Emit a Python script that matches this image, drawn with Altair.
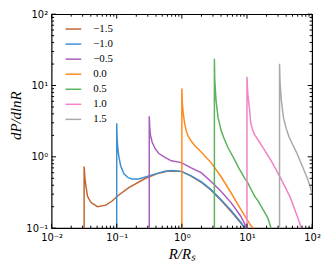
import math
import altair as alt
import pandas as pd

# ---- data ----
series_names = [-1.5, -1.0, -0.5, 0.0, 0.5, 1.0, 1.5]
colors = ["#c0652f", "#3d8fd2", "#a85cbe", "#ff8a1c", "#5cb35c", "#f382c8", "#a9a9a9"]

x_m15 = [0.0316, 0.0316, 0.0325, 0.0337, 0.0356, 0.040, 0.0506, 0.068, 0.085, 0.104, 0.153, 0.278, 0.44, 0.62, 0.80, 1.0, 1.39, 1.98, 2.81, 3.98, 5.66, 8.04, 9.3, 11.0]
y_m15 = [0.01, 0.73, 0.50, 0.39, 0.28, 0.23, 0.20, 0.21, 0.24, 0.285, 0.37, 0.50, 0.59, 0.63, 0.635, 0.62, 0.535, 0.44, 0.34, 0.247, 0.173, 0.118, 0.10, 0.08]

x_m10 = [0.1, 0.1, 0.1015, 0.104, 0.108, 0.115, 0.129, 0.15, 0.172, 0.218, 0.33, 0.55, 0.69, 0.98, 1.39, 1.98, 2.81, 3.98, 5.66, 8.04, 9.25, 11.0]
y_m10 = [0.01, 2.95, 1.8, 1.3, 1.0, 0.75, 0.58, 0.51, 0.49, 0.49, 0.55, 0.63, 0.645, 0.625, 0.54, 0.45, 0.347, 0.253, 0.178, 0.121, 0.10, 0.08]

x_m05 = [0.316, 0.316, 0.322, 0.33, 0.35, 0.39, 0.44, 0.55, 0.69, 0.98, 1.39, 1.98, 2.81, 3.98, 5.66, 8.04, 9.9, 12.0]
y_m05 = [0.01, 3.7, 2.5, 2.0, 1.6, 1.3, 1.12, 0.98, 0.88, 0.83, 0.70, 0.60, 0.45, 0.33, 0.23, 0.147, 0.10, 0.075]

x_p00 = [1.0, 1.0, 1.02, 1.05, 1.1, 1.17, 1.25, 1.4, 1.6, 1.98, 2.81, 3.98, 5.66, 8.04, 11.5, 12.5, 15.0]
y_p00 = [0.01, 9.1, 5.5, 4.1, 3.0, 2.3, 1.95, 1.65, 1.42, 1.17, 0.83, 0.53, 0.316, 0.184, 0.108, 0.10, 0.075]

x_p05 = [3.16, 3.16, 3.2, 3.35, 3.59, 3.99, 4.4, 5.1, 6.5, 7.2, 9.25, 10.3, 13.1, 14.6, 20.7, 23.5, 27.0]
y_p05 = [0.01, 23.7, 12.0, 6.2, 3.6, 2.37, 1.85, 1.35, 0.9, 0.74, 0.5, 0.43, 0.28, 0.245, 0.142, 0.10, 0.08]

x_p10 = [10.0, 10.0, 10.3, 11.0, 11.4, 12.2, 13.1, 15.6, 18.0, 23.0, 32.6, 46.2, 63.0, 68.0, 80.0]
y_p10 = [0.01, 13.3, 7.5, 4.5, 3.0, 2.4, 2.05, 1.6, 1.3, 0.91, 0.51, 0.27, 0.125, 0.10, 0.07]

x_p15 = [31.6, 31.6, 32.2, 33.7, 36.2, 40.0, 44.3, 50.0, 57.7, 70.4, 85.9, 100.0, 110.0]
y_p15 = [0.01, 20.2, 11.0, 6.2, 3.6, 2.5, 1.9, 1.5, 1.15, 0.75, 0.48, 0.31, 0.25]

x_ticks = [0.01, 0.1, 1, 10, 100]
x_tick_labels = ["10⁻²", "10⁻¹", "10⁰", "10¹", "10²"]
y_ticks = [0.1, 1, 10, 100]
y_tick_labels = ["10⁻¹", "10⁰", "10¹", "10²"]
x_minor = [m * d for d in [0.01, 0.1, 1, 10] for m in range(2, 10)]
y_minor = [m * d for d in [0.1, 1, 10] for m in range(2, 10)]

# ---- build table ----
xs = [x_m15, x_m10, x_m05, x_p00, x_p05, x_p10, x_p15]
ys = [y_m15, y_m10, y_m05, y_p00, y_p05, y_p10, y_p15]
rows = []
for name, xl, yl in zip(series_names, xs, ys):
    for i, (a, b) in enumerate(zip(xl, yl)):
        rows.append({"s": name, "i": i, "x": a, "y": b})
df = pd.DataFrame(rows)

W, H = 263, 216
MAJ, MIN = 4.5, 2.5


def label_expr(vals, labels):
    expr = "''"
    for v, lab in reversed(list(zip(vals, labels))):
        expr = f"(abs(log(datum.value)/LN10 - ({math.log10(v)})) < 0.01 ? '{lab}' : {expr})"
    return expr


xscale = alt.Scale(type="log", domain=[0.01, 100], nice=False)
yscale = alt.Scale(type="log", domain=[0.1, 100], nice=False)

common = dict(ticks=False, domain=False, grid=False, labelFont="DejaVu Sans",
              labelFontSize=10, labelColor="black", labelFlush=False,
              labelOverlap=False, titleFont="Liberation Serif",
              titleFontStyle="italic", titleFontWeight="normal",
              titleFontSize=15, titleColor="black")
xaxis = alt.Axis(values=x_ticks, labelExpr=label_expr(x_ticks, x_tick_labels),
                 labelPadding=4, title="R/Rₛ", titlePadding=5, **common)
yaxis = alt.Axis(values=y_ticks, labelExpr=label_expr(y_ticks, y_tick_labels),
                 labelPadding=4, title="dP/dlnR", titlePadding=2, titleY=102, **common)

lines = alt.Chart(df).mark_line(clip=True, strokeWidth=1.5).encode(
    x=alt.X("x:Q", scale=xscale, axis=xaxis),
    y=alt.Y("y:Q", scale=yscale, axis=yaxis),
    color=alt.Color("s:O", scale=alt.Scale(domain=series_names, range=colors),
                    legend=alt.Legend(title=None, orient="none", legendX=13, legendY=6,
                                      symbolType="stroke", symbolSize=250,
                                      symbolStrokeWidth=1.5, labelFont="Liberation Serif",
                                      labelFontSize=11, labelOffset=11, rowPadding=1.2,
                                      padding=0, labelColor="black",
                                      labelExpr="format(datum.value, '.1f')")),
    order="i:Q",
)


def xtick(vals, L, top):
    d = pd.DataFrame({"x": vals})
    y0 = 0 if top else H
    y1 = L if top else H - L
    return alt.Chart(d).mark_rule(color="black", strokeWidth=1).encode(
        x=alt.X("x:Q", scale=xscale, axis=xaxis),
        y=alt.value(y0), y2=alt.value(y1))


def ytick(vals, L, right):
    d = pd.DataFrame({"y": vals})
    x0 = W if right else 0
    x1 = W - L if right else L
    return alt.Chart(d).mark_rule(color="black", strokeWidth=1).encode(
        y=alt.Y("y:Q", scale=yscale, axis=yaxis),
        x=alt.value(x0), x2=alt.value(x1))


ticks = [xtick(x_ticks, MAJ, False), xtick(x_ticks, MAJ, True),
         xtick(x_minor, MIN, False), xtick(x_minor, MIN, True),
         ytick(y_ticks, MAJ, False), ytick(y_ticks, MAJ, True),
         ytick(y_minor, MIN, False), ytick(y_minor, MIN, True)]

chart = alt.layer(lines, *ticks).properties(
    width=W, height=H, autosize="none",
    padding={"left": 44, "top": 5, "right": 12, "bottom": 40},
).configure_view(stroke="black", strokeWidth=1.2)

chart.save("out.html", embed_options={"renderer": "svg", "actions": False})
